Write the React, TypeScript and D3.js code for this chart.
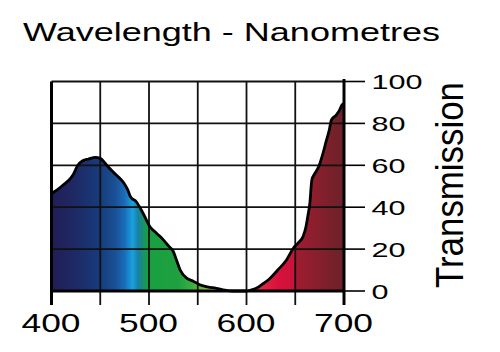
import React, { useEffect, useRef } from 'react';
import * as d3 from 'd3';

// transmission curve
const wavelengths = [
  400, 405, 412, 418, 422, 427, 432, 438, 445, 450, 455, 458, 464, 470, 475, 478, 481, 487,
  494, 501, 508, 515, 520, 525, 528, 532, 539, 545, 552, 560, 569, 578, 585, 600, 605, 610,
  617, 624, 632, 641, 648, 653, 658, 661, 663, 665, 667, 670, 674, 678, 682, 685, 687, 692,
  695, 698, 700,
];
const transmission = [
  46.5, 48, 50.6, 53, 55.4, 60, 62.2, 63, 63.8, 63.3, 61, 59.3, 56.5, 53.8, 51, 48.5, 45, 42.6,
  37, 30.7, 27.5, 24.3, 21.5, 18.8, 15, 10, 6, 4.8, 3, 2, 1.3, 0.4, 0, 0, 0.5, 1.3,
  3.5, 6, 10, 14.8, 20.4, 23, 26, 30.7, 36, 42, 53, 56, 59.3, 65, 72, 77, 81.6, 84,
  86, 88.8, 89.5,
];

// spectrum fill colours by wavelength
const stopNm = [400, 425, 450, 465, 475, 483, 489, 496, 500, 530, 545, 560, 570, 590, 608, 634, 649, 651, 700];
const stopColors = [
  '#221d55', '#1e2a66', '#163c7c', '#1a4f94', '#1a6cb8', '#18a0e0', '#1a80a0', '#189858',
  '#18a040', '#20a040', '#3cb040', '#90c030', '#d0d020', '#e06030', '#e03040', '#d8103c',
  '#c8143a', '#a01c30', '#6a2228',
];

const xTicks = [400, 450, 500, 550, 600, 650, 700];
const xLabels = [400, 500, 600, 700];
const yTicks = [0, 20, 40, 60, 80, 100];

const FONT = '"Liberation Sans", Arial, Helvetica, sans-serif';

const App: React.FC = () => {
  const svgRef = useRef<SVGSVGElement>(null);

  useEffect(() => {
    if (!svgRef.current) return;
    const svg = d3.select(svgRef.current);
    svg.selectAll('*').remove();

    const x = d3.scaleLinear().domain([400, 700]).range([51.5, 344]);
    const y = d3.scaleLinear().domain([0, 100]).range([291, 81.5]);

    const data = wavelengths.map((w, i) => ({ w, t: transmission[i] }));

    const grad = svg.append('defs').append('linearGradient')
      .attr('id', 'spectrum')
      .attr('gradientUnits', 'userSpaceOnUse')
      .attr('x1', x(400)).attr('x2', x(700))
      .attr('y1', 0).attr('y2', 0);
    stopNm.forEach((nm, i) => {
      grad.append('stop')
        .attr('offset', (nm - 400) / 300)
        .attr('stop-color', stopColors[i]);
    });

    const area = d3.area<{ w: number; t: number }>()
      .x(d => x(d.w))
      .y0(y(0))
      .y1(d => y(d.t))
      .curve(d3.curveMonotoneX);

    svg.append('path')
      .datum(data)
      .attr('d', area)
      .attr('fill', 'url(#spectrum)');

    // grid
    const grid = svg.append('g').attr('stroke', '#111').attr('stroke-width', 1.8);
    xTicks.slice(1, -1).forEach(t => {
      grid.append('line')
        .attr('x1', x(t)).attr('x2', x(t))
        .attr('y1', y(100)).attr('y2', 305);
    });
    yTicks.slice(1).forEach(t => {
      grid.append('line')
        .attr('x1', x(400)).attr('x2', x(700))
        .attr('y1', y(t)).attr('y2', y(t));
    });

    const line = d3.line<{ w: number; t: number }>()
      .x(d => x(d.w))
      .y(d => y(d.t))
      .curve(d3.curveMonotoneX);

    svg.append('path')
      .datum(data)
      .attr('d', line)
      .attr('fill', 'none')
      .attr('stroke', '#000')
      .attr('stroke-width', 2.8)
      .attr('stroke-linejoin', 'round');

    // frame: left, bottom, right axis
    svg.append('line')
      .attr('x1', x(400)).attr('x2', x(400))
      .attr('y1', y(100)).attr('y2', 305)
      .attr('stroke', '#000').attr('stroke-width', 3);
    svg.append('line')
      .attr('x1', x(400)).attr('x2', x(700))
      .attr('y1', y(0)).attr('y2', y(0))
      .attr('stroke', '#000').attr('stroke-width', 3);
    svg.append('line')
      .attr('x1', x(700)).attr('x2', x(700))
      .attr('y1', 79).attr('y2', 305)
      .attr('stroke', '#000').attr('stroke-width', 3);

    // right ticks + labels
    yTicks.forEach(t => {
      svg.append('line')
        .attr('x1', x(700)).attr('x2', 365)
        .attr('y1', y(t)).attr('y2', y(t))
        .attr('stroke', '#000').attr('stroke-width', 1.6);
      const s = String(t);
      svg.append('text')
        .attr('x', 371.5)
        .attr('y', y(t) + 7.5)
        .attr('font-family', FONT)
        .attr('font-size', 21)
        .attr('fill', '#000')
        .attr('textLength', s.length * 17)
        .attr('lengthAdjust', 'spacingAndGlyphs')
        .text(s);
    });

    // bottom labels
    xLabels.forEach(t => {
      svg.append('text')
        .attr('x', x(t) - 30)
        .attr('y', 331.5)
        .attr('font-family', FONT)
        .attr('font-size', 25)
        .attr('fill', '#000')
        .attr('textLength', 59)
        .attr('lengthAdjust', 'spacingAndGlyphs')
        .text(String(t));
    });

    svg.append('text')
      .attr('x', 23)
      .attr('y', 40.5)
      .attr('font-family', FONT)
      .attr('font-size', 26.5)
      .attr('fill', '#000')
      .attr('textLength', 417)
      .attr('lengthAdjust', 'spacingAndGlyphs')
      .text('Wavelength - Nanometres');

    svg.append('text')
      .attr('transform', 'translate(463,185) rotate(-90)')
      .attr('x', -103)
      .attr('y', 0)
      .attr('font-family', FONT)
      .attr('font-size', 39)
      .attr('fill', '#000')
      .attr('textLength', 206)
      .attr('lengthAdjust', 'spacingAndGlyphs')
      .text('Transmission');
  }, []);

  return (
    <svg
      ref={svgRef}
      width={500}
      height={352}
      style={{ position: 'absolute', left: 0, top: 0, background: '#fff', display: 'block' }}
    />
  );
};

export default App;
